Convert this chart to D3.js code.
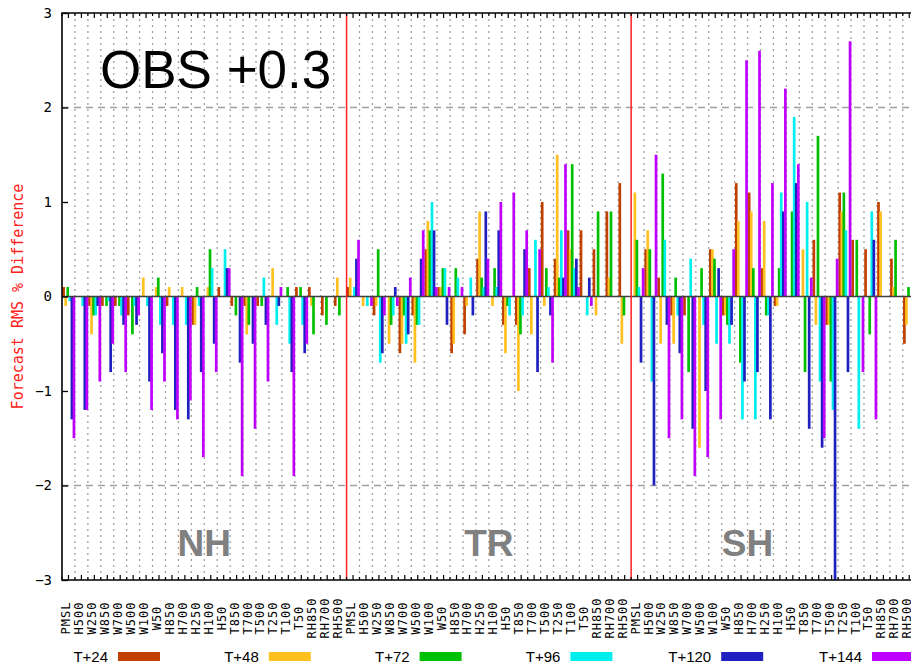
<!DOCTYPE html>
<html>
<head>
<meta charset="utf-8">
<script src="https://cdn.jsdelivr.net/npm/d3@7"></script>
<style>
body { margin: 0; background: #fff; }
svg { display: block; }
</style>
</head>
<body>
<div id="chart"></div>
<script>
var regions = ['NH', 'TR', 'SH'];
var variables = ['PMSL', 'H500', 'W250', 'W850', 'W700', 'W500', 'W100', 'W50',
	'H850', 'H700', 'H250', 'H100', 'H50', 'T850', 'T700', 'T500', 'T250', 'T100', 'T50',
	'RH850', 'RH700', 'RH500'];
var leadTimes = ['T+24', 'T+48', 'T+72', 'T+96', 'T+120', 'T+144'];
var colours = ['#c04000', '#ffc020', '#00c000', '#00eeee', '#2020c0', '#c000ff'];

// forecast RMS % difference, NH / TR / SH, one value per variable
var t24 = [
	0.1, 0, -0.1, -0.1, -0.1, -0.2, 0, 0, -0.1, 0, -0.3, 0, 0.1, -0.1, -0.1, -0.1, 0, 0, 0.1, 0.1, -0.2, -0.1,
	0.1, 0, -0.2, 0, -0.6, -0.2, 0.5, 0.1, -0.6, -0.4, 0.4, 0, -0.3, -0.3, 0.3, 1.0, 0.4, 0.7, 0.7, 0.5, 0.9, 1.2,
	0, 0.5, 0.2, -0.2, -0.2, 0, 0.5, -0.2, 1.2, 1.1, 0.3, -0.1, 0, 0, 0.6, -0.3, 1.1, 0.6, 0.5, 1.0, 0.4, -0.5
];
var t48 = [
	-0.1, 0, -0.4, 0, 0, 0, 0.2, 0.1, 0.1, 0.1, -0.3, 0.1, 0, 0, -0.4, 0, 0.3, 0, 0, -0.1, 0, 0.2,
	0.2, -0.1, -0.1, -0.5, -0.5, -0.7, 0.8, 0.1, -0.5, -0.1, 0.9, -0.1, -0.6, -1.0, -0.4, -0.1, 1.5, 0.5, 0, -0.2, 0.2, -0.5,
	1.1, 0.7, -0.5, -0.5, 0, -1.6, 0.5, -0.2, 0.8, 0.9, 0.8, -0.1, 0, 0.5, -0.3, -0.3, 0.9, 0, 0, 0.9, 0.1, -0.3
];
var t72 = [
	0.1, 0, -0.2, -0.1, -0.1, -0.4, 0, 0.2, 0, 0, 0.1, 0.5, 0, -0.2, -0.3, -0.1, 0, 0.1, 0.1, -0.4, -0.3, -0.2,
	0, 0, 0.5, -0.3, -0.2, -0.3, 0.7, 0.3, 0.3, 0, 0.2, 0.3, -0.1, -0.4, 0, 0.3, 0.2, 1.4, 0, 0.9, 0.9, -0.2,
	0.6, 0.5, 1.3, 0.2, -0.8, 0.3, 0.4, -0.3, -0.7, 0.3, -0.2, 0.3, 0.9, -0.8, 1.7, -0.9, 1.1, 0.6, -0.4, 0, 0.6, 0.1
];
var t96 = [
	-0.05, -0.1, -0.2, -0.05, -0.2, -0.1, -0.1, -0.3, -0.3, -0.3, -0.1, 0.3, 0.5, 0, 0, 0.2, -0.3, -0.5, -0.3, 0, 0, 0,
	0.1, -0.1, -0.7, -0.2, -0.5, -0.3, 1.0, 0.3, 0.2, 0.2, 0.1, 0.1, -0.2, -0.2, 0.6, 0.1, 0.7, 0.3, -0.2, 0, 0, 0,
	0.1, -0.9, 0.6, -0.2, 0.4, -0.3, -0.5, -0.5, -1.3, -1.3, -0.2, 1.1, 1.9, 1.0, -0.9, -1.2, 0.7, -1.4, 0.9, 0, 0, 0
];
var t120 = [
	-1.3, -1.2, -0.1, -0.8, -0.3, -0.3, -0.9, -0.6, -1.2, -1.3, -0.8, -0.5, 0.3, -0.7, -0.5, -0.3, -0.1, -0.8, -0.6, 0, 0, 0,
	0.4, 0, -0.6, 0.1, -0.4, 0.4, 0.7, -0.3, 0, -0.2, 0.9, 0.7, 0, 0.5, -0.8, -0.2, 0.2, 0.4, 0.2, 0, 0, 0,
	-0.7, -2.0, -0.3, -0.6, -1.4, -1.0, 0.3, -0.3, -0.9, -0.8, -1.3, 0.9, 1.2, -1.4, -1.6, -3.5, -0.8, 0, 0.6, 0, 0, 0
];
var t144 = [
	-1.5, -1.2, -0.9, -0.5, -0.8, -0.2, -1.2, -0.9, -1.3, -1.1, -1.7, -0.8, 0.3, -1.9, -1.4, -0.9, 0.1, -1.9, -0.5, 0, 0, 0,
	0.6, -0.1, -0.2, -0.1, 0.2, 0.7, 0.1, 0.1, 0.1, 0, 0.4, 1.0, 1.1, 0.7, 0.5, -0.7, 1.4, 0.1, -0.1, 0, 0, 0,
	0.3, 1.5, -1.5, -1.3, -1.9, -1.7, -1.3, 0.5, 2.5, 2.6, 1.2, 2.2, 1.4, 0.2, -1.5, 0.4, 2.7, -0.8, -1.3, 0, 0, 0
];
var seriesValues = [t24, t48, t72, t96, t120, t144];

var yTicks = [-3, -2, -1, 0, 1, 2, 3];
var yGrid = [-2, 2];

var plot = { left: 62, top: 13, bottom: 580, slot: 12.935 };
plot.right = plot.left + plot.slot * regions.length * variables.length;

var keys = [];
regions.forEach(function(r) {
	variables.forEach(function(v) { keys.push(r + ' ' + v); });
});

var x = d3.scaleBand().domain(keys).range([plot.left, plot.right]);
var y = d3.scaleLinear().domain([-3, 3]).range([plot.bottom, plot.top]);
var xSeries = d3.scaleBand().domain(leadTimes)
	.range([x.bandwidth() * 0.02, x.bandwidth() * 0.98]);

var svg = d3.select('#chart').append('svg')
	.attr('width', 911)
	.attr('height', 666);

svg.append('clipPath').attr('id', 'plot-clip')
	.append('rect')
	.attr('x', plot.left).attr('y', plot.top)
	.attr('width', plot.right - plot.left).attr('height', plot.bottom - plot.top);

// vertical dotted grid at slot boundaries
var boundaries = d3.range(1, keys.length).filter(function(i) { return i % variables.length; });
svg.append('g').selectAll('line')
	.data(boundaries)
	.enter()
	.append('line')
	.attr('x1', function(i) { return x(keys[i]); })
	.attr('x2', function(i) { return x(keys[i]); })
	.attr('y1', plot.top)
	.attr('y2', plot.bottom)
	.style('stroke', '#a0a0a0')
	.style('stroke-width', 1.3)
	.style('stroke-dasharray', '2,4');

svg.append('g').selectAll('line')
	.data(yGrid)
	.enter()
	.append('line')
	.attr('x1', plot.left)
	.attr('x2', plot.right)
	.attr('y1', function(d) { return y(d); })
	.attr('y2', function(d) { return y(d); })
	.style('stroke', '#a0a0a0')
	.style('stroke-width', 1.3)
	.style('stroke-dasharray', '7,5');

// bars
var bars = [];
seriesValues.forEach(function(vals, s) {
	vals.forEach(function(v, i) {
		if (v !== 0) bars.push({ key: keys[i], series: leadTimes[s], colour: colours[s], value: v });
	});
});

svg.append('g')
	.attr('clip-path', 'url(#plot-clip)')
	.selectAll('rect')
	.data(bars)
	.enter()
	.append('rect')
	.attr('x', function(d) { return x(d.key) + xSeries(d.series); })
	.attr('width', xSeries.bandwidth() * 1.3)
	.attr('y', function(d) { return y(Math.max(0, d.value)); })
	.attr('height', function(d) { return Math.abs(y(d.value) - y(0)); })
	.attr('fill', function(d) { return d.colour; });

// zero line
svg.append('line')
	.attr('x1', plot.left).attr('x2', plot.right)
	.attr('y1', y(0)).attr('y2', y(0))
	.style('stroke', '#404040')
	.style('stroke-width', 1.6);

// region separators
svg.append('g').selectAll('line')
	.data([variables.length, variables.length * 2])
	.enter()
	.append('line')
	.attr('x1', function(i) { return x(keys[i]); })
	.attr('x2', function(i) { return x(keys[i]); })
	.attr('y1', plot.top)
	.attr('y2', plot.bottom)
	.style('stroke', '#ff2020')
	.style('stroke-width', 1.5);

// frame
svg.append('path')
	.attr('d', 'M' + plot.right + ',' + plot.top + 'H' + plot.left + 'V' + plot.bottom + 'H' + plot.right)
	.style('fill', 'none')
	.style('stroke', '#000')
	.style('stroke-width', 1.6);

// y axis
var yAxis = svg.append('g')
	.attr('transform', 'translate(' + plot.left + ',0)')
	.call(d3.axisLeft(y).tickValues(yTicks).tickSize(-6).tickPadding(10).tickFormat(d3.format('d')));
yAxis.select('.domain').remove();
yAxis.selectAll('line').style('stroke', '#000').style('stroke-width', 1.3);
yAxis.selectAll('text')
	.style('font-family', 'DejaVu Sans Mono, monospace')
	.style('font-size', '14px')
	.style('fill', '#000');

// x ticks at slot centres (major) and boundaries (minor), top and bottom
var xTickG = svg.append('g').style('stroke', '#000').style('stroke-width', 1.2);
keys.forEach(function(k, i) {
	var cx = x(k) + x.bandwidth() / 2, bx = x(k);
	[[cx, 5], [bx, 3]].forEach(function(t) {
		xTickG.append('line').attr('x1', t[0]).attr('x2', t[0])
			.attr('y1', plot.bottom).attr('y2', plot.bottom - t[1]);
		xTickG.append('line').attr('x1', t[0]).attr('x2', t[0])
			.attr('y1', plot.top).attr('y2', plot.top + t[1]);
	});
});

svg.append('g').selectAll('text')
	.data(keys)
	.enter()
	.append('text')
	.attr('transform', function(k) {
		return 'translate(' + (x(k) + x.bandwidth() / 2 + 2) + ',618) rotate(-90)';
	})
	.attr('text-anchor', 'middle')
	.style('font-family', 'DejaVu Sans Mono, monospace')
	.style('font-size', '12px')
	.style('letter-spacing', '1px')
	.text(function(k) { return k.split(' ')[1]; });

// y axis title
svg.append('text')
	.attr('transform', 'translate(23,' + y(0) + ') rotate(-90)')
	.attr('text-anchor', 'middle')
	.style('font-family', 'DejaVu Sans Mono, monospace')
	.style('font-size', '15px')
	.style('fill', '#ff2020')
	.text('Forecast RMS % Difference');

// region names
svg.append('g').selectAll('text')
	.data([[regions[0], 11], [regions[1], 33], [regions[2], 53]])
	.enter()
	.append('text')
	.attr('x', function(d) { return x(keys[d[1]]); })
	.attr('y', 556)
	.attr('text-anchor', 'middle')
	.style('font-family', 'Liberation Sans, Arial, sans-serif')
	.style('font-weight', 'bold')
	.style('font-size', '37px')
	.style('fill', '#808080')
	.text(function(d) { return d[0]; });

svg.append('text')
	.attr('x', 100)
	.attr('y', 88)
	.style('font-family', 'Liberation Sans, Arial, sans-serif')
	.style('font-size', '53px')
	.style('fill', '#000')
	.text('OBS +0.3');

// legend
var legend = svg.append('g').selectAll('g')
	.data(leadTimes)
	.enter()
	.append('g')
	.attr('transform', function(d, i) { return 'translate(' + (118 + i * 150.8) + ',652)'; });

legend.append('rect')
	.attr('width', 42)
	.attr('height', 9)
	.attr('fill', function(d, i) { return colours[i]; });

legend.append('text')
	.attr('x', -10)
	.attr('y', 10)
	.attr('text-anchor', 'end')
	.style('font-family', 'Liberation Sans, Arial, sans-serif')
	.style('font-size', '15px')
	.text(function(d) { return d; });
</script>
</body>
</html>
